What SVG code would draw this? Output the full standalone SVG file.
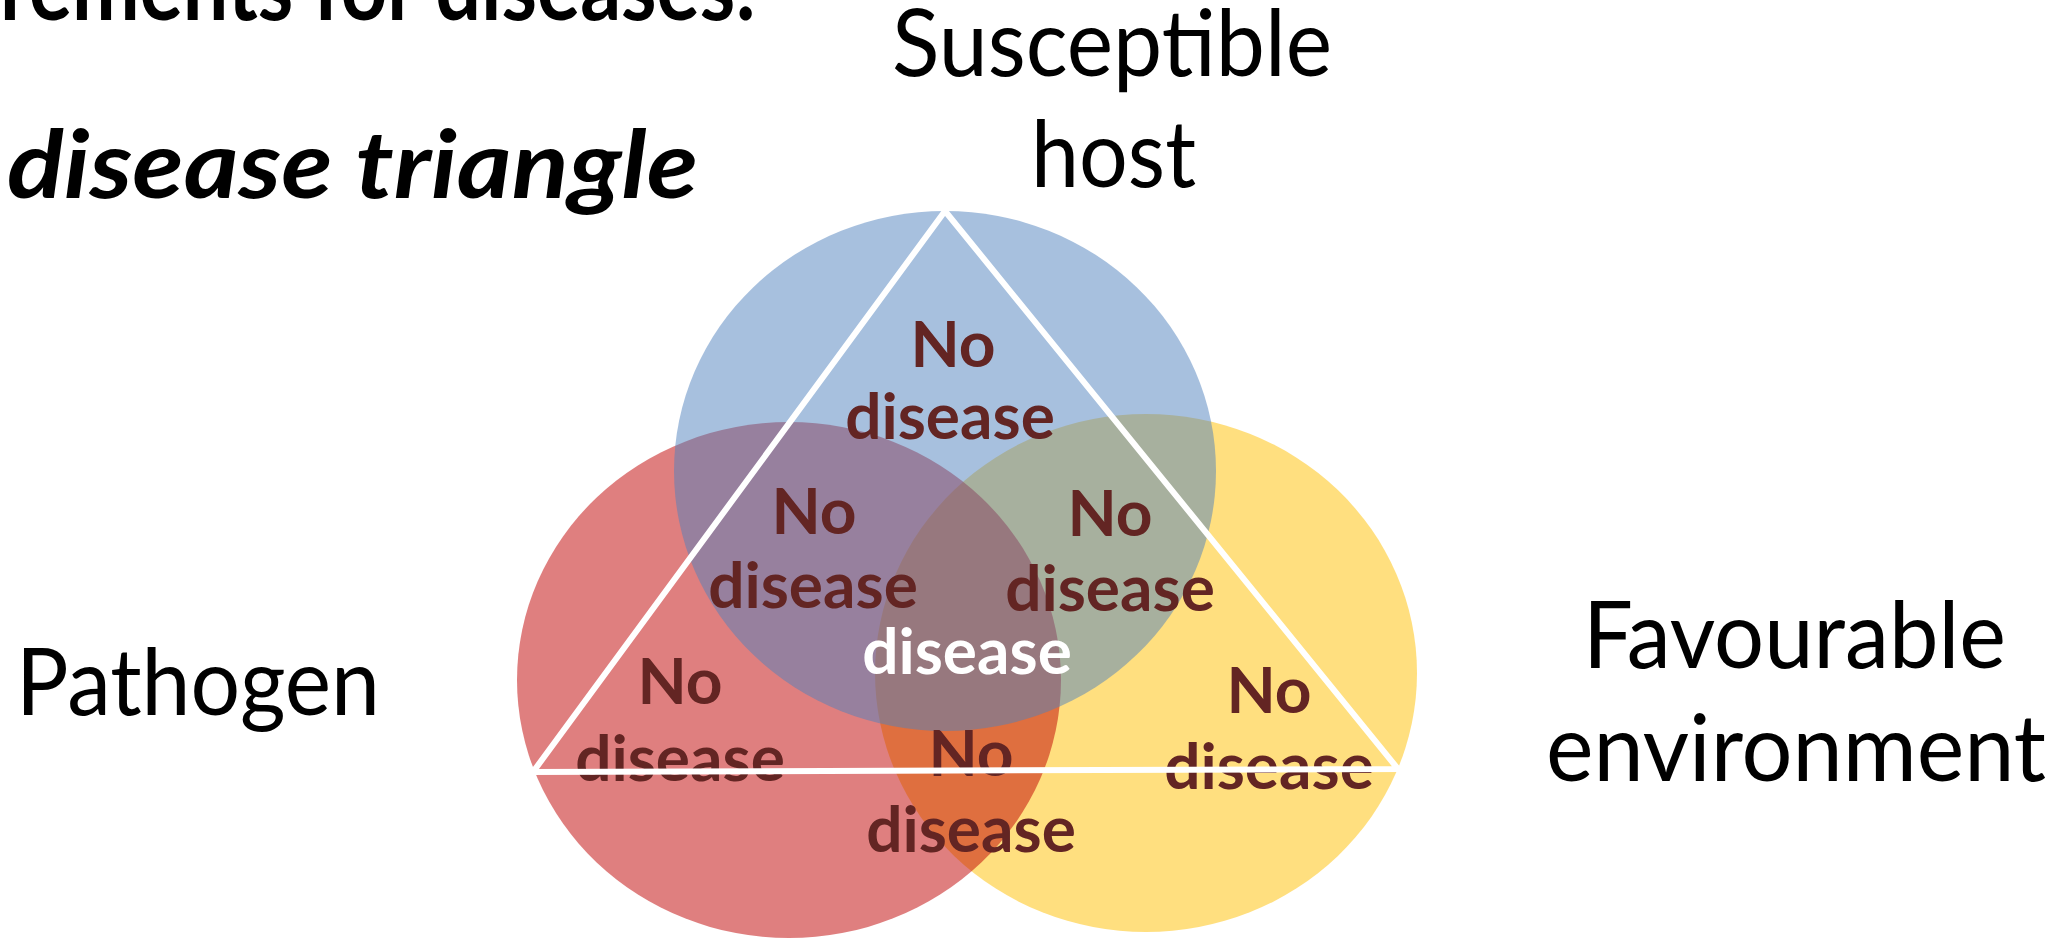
<svg xmlns="http://www.w3.org/2000/svg" width="2072" height="938" viewBox="0 0 2072 938">
<style>
.big{font-family:Lato,"Liberation Sans",sans-serif;font-size:94px;fill:#000}
.title{font-family:Lato,"Liberation Sans",sans-serif;font-size:94px;font-weight:bold;fill:#000}
.lab{font-family:Lato,"Liberation Sans",sans-serif;font-size:64px;font-weight:bold;fill:#632523;text-anchor:middle}
.white{fill:#fff}
</style>
<rect width="2072" height="938" fill="#fff"/>
<g id="heading">
<text class="title" x="0" y="20" textLength="756" lengthAdjust="spacingAndGlyphs">rements for diseases:</text>
<text class="title" x="7" y="198" font-style="italic" textLength="691" lengthAdjust="spacingAndGlyphs">disease triangle</text>
</g>
<g id="environment-circle"><ellipse cx="1146" cy="673" rx="271" ry="259" fill="#FFC000" fill-opacity="0.5"/></g>
<g id="pathogen-circle"><ellipse cx="789" cy="680" rx="272" ry="258" fill="#C00000" fill-opacity="0.5"/></g>
<g id="host-circle"><ellipse cx="945" cy="471" rx="271" ry="260" fill="#4F81BD" fill-opacity="0.5"/></g>
<g id="host-label">
<text class="big" x="892" y="76" textLength="440" lengthAdjust="spacingAndGlyphs">Susceptible</text>
<text class="big" x="1031" y="187" textLength="165" lengthAdjust="spacingAndGlyphs">host</text>
</g>
<g id="pathogen-label"><text class="big" x="16" y="715" textLength="364" lengthAdjust="spacingAndGlyphs">Pathogen</text></g>
<g id="environment-label">
<text class="big" x="1583" y="668" textLength="423" lengthAdjust="spacingAndGlyphs">Favourable</text>
<text class="big" x="1546" y="781" textLength="500" lengthAdjust="spacingAndGlyphs">environment</text>
</g>
<g id="region-host"><text class="lab" x="953" y="367">No</text><text class="lab" x="950" y="439">disease</text></g>
<g id="region-host-pathogen"><text class="lab" x="814" y="534">No</text><text class="lab" x="813" y="608">disease</text></g>
<g id="region-host-env"><text class="lab" x="1110" y="536">No</text><text class="lab" x="1110" y="611">disease</text></g>
<g id="region-all"><text class="lab white" x="967" y="674">disease</text></g>
<g id="region-pathogen"><text class="lab" x="680" y="704">No</text><text class="lab" x="680" y="781">disease</text></g>
<g id="region-pathogen-env"><text class="lab" x="971" y="776">No</text><text class="lab" x="971" y="852">disease</text></g>
<g id="region-env"><text class="lab" x="1269" y="713">No</text><text class="lab" x="1269" y="789">disease</text></g>
<g id="connectors"><polygon points="945,211 533,772 1398,769" fill="none" stroke="#fff" stroke-width="6" stroke-linejoin="miter"/></g>
</svg>
